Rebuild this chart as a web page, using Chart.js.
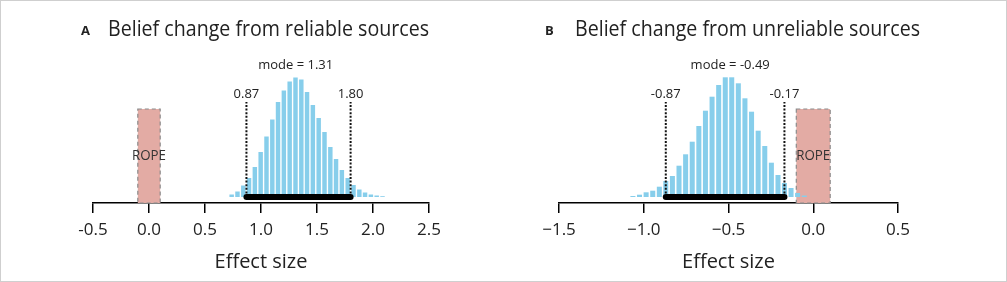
<!DOCTYPE html>
<html>
<head>
<meta charset="utf-8">
<script src="https://cdn.jsdelivr.net/npm/chart.js@4.4.0/dist/chart.umd.min.js"></script>
<style>
    html, body { margin: 0; padding: 0; background: #fff; }
    #wrap { position: relative; width: 1007px; height: 282px; overflow: hidden; }
    #wrap canvas { position: absolute; top: 0; }
    #frame { position: absolute; left: 0; top: 0; width: 1005px; height: 280px; border: 1px solid #cfcfcf; pointer-events: none; }
</style>
</head>
<body>
<div id="wrap">
    <canvas id="chartA" width="503" height="282" style="left:0"></canvas>
    <canvas id="chartB" width="504" height="282" style="left:503px"></canvas>
    <div id="frame"></div>
</div>
<script>
// Panel A - reliable sources (posterior histogram)
const binsA = [0.738, 0.790, 0.842, 0.893, 0.945, 0.997, 1.049, 1.101, 1.152, 1.204, 1.256, 1.308, 1.360, 1.411,
    1.463, 1.515, 1.567, 1.619, 1.670, 1.722, 1.774, 1.826, 1.878, 1.929, 1.981, 2.033, 2.085];
const countsA = [2.5, 5.5, 11.5, 19, 30, 45, 60.5, 77.5, 95, 106.5, 115.5, 119.5, 117.5, 105,
    92, 79, 65, 50, 38, 27, 19, 12, 7.5, 4.5, 2.5, 1.5, 0.8];
const hdiA = [0.87, 1.80];
const modeA = 1.31;
const ticksA = [-0.5, 0, 0.5, 1, 1.5, 2, 2.5];
const tickLabelsA = ['-0.5', '0.0', '0.5', '1.0', '1.5', '2.0', '2.5'];

// Panel B - unreliable sources
const binsB = [-1.064, -1.025, -0.986, -0.947, -0.908, -0.870, -0.831, -0.792, -0.753, -0.714, -0.675, -0.636, -0.597,
    -0.558, -0.519, -0.481, -0.442, -0.403, -0.364, -0.325, -0.286, -0.247, -0.208, -0.170, -0.131, -0.092, -0.053];
const countsB = [1, 2.3, 4.7, 6.3, 10.3, 16, 21, 31.3, 42.7, 55.3, 71, 86.3, 100.3,
    112, 119.7, 119.7, 113.7, 98.7, 85.3, 66.3, 51, 34.3, 22, 14, 9, 4, 1.5];
const hdiB = [-0.87, -0.17];
const modeB = -0.49;
const ticksB = [-1.5, -1, -0.5, 0, 0.5];
const tickLabelsB = ['\u22121.5', '\u22121.0', '\u22120.5', '0.0', '0.5'];

// region of practical equivalence (same for both panels)
const rope = [-0.1, 0.1];

// vertical placement, in y units above the histogram baseline
const ropeTop = 88;
const hdiLineTop = 95;
const hdiLabelY = 98.7;
const modeLabelY = 128.5;
const ropeLabelY = 37.5;

const FONT = '"Open Sans", "Noto Sans", sans-serif';

const annotate = {
    id: 'annotate',
    beforeDatasetsDraw(chart, args, o) {
        const { ctx, scales: { x, y } } = chart;
        const x0 = x.getPixelForValue(rope[0]);
        const x1 = x.getPixelForValue(rope[1]);
        const yt = y.getPixelForValue(ropeTop);
        const yb = y.getPixelForValue(y.min);
        ctx.save();
        ctx.fillStyle = '#e3aba4';
        ctx.fillRect(x0, yt, x1 - x0, yb - yt);
        ctx.setLineDash([4, 3]);
        ctx.strokeStyle = '#8c8c8c';
        ctx.lineWidth = 1.2;
        ctx.strokeRect(x0, yt, x1 - x0, yb - yt);
        ctx.setLineDash([]);
        ctx.fillStyle = '#333';
        ctx.font = '15px ' + FONT;
        ctx.textAlign = 'center';
        ctx.textBaseline = 'alphabetic';
        ctx.fillText('ROPE', (x0 + x1) / 2, y.getPixelForValue(ropeLabelY), 34);
        ctx.restore();
    },
    afterDraw(chart, args, o) {
        const { ctx, scales: { x, y } } = chart;
        ctx.save();
        ctx.fillStyle = '#222';
        ctx.textBaseline = 'alphabetic';
        ctx.textAlign = 'left';
        ctx.font = 'bold 13px ' + FONT;
        ctx.fillText(o.letter, o.letterX, 35);
        ctx.font = '22px ' + FONT;
        ctx.fillText(o.title, o.titleX, 36, o.titleW);

        ctx.textAlign = 'center';
        ctx.font = '13px ' + FONT;
        ctx.fillText('mode = ' + o.mode.toFixed(2), x.getPixelForValue(o.mode), y.getPixelForValue(modeLabelY));
        o.hdi.forEach(v => {
            ctx.fillText(v.toFixed(2), x.getPixelForValue(v), y.getPixelForValue(hdiLabelY));
        });
        ctx.restore();
    }
};

function makeChart(id, bins, counts, hdi, mode, tickVals, tickLabels, range, pad, head) {
    const dotted = v => ({
        type: 'line',
        data: [{ x: v, y: 0 }, { x: v, y: hdiLineTop }],
        borderColor: '#111',
        borderWidth: 2,
        borderDash: [2, 1.6],
        pointRadius: 0,
        order: 1
    });

    return new Chart(document.getElementById(id), {
        type: 'bar',
        data: {
            datasets: [
                {
                    type: 'line',
                    data: hdi.map(v => ({ x: v, y: 0 })),
                    borderColor: '#000',
                    borderWidth: 6,
                    borderCapStyle: 'round',
                    pointRadius: 0,
                    order: 0
                },
                dotted(hdi[0]),
                dotted(hdi[1]),
                {
                    type: 'bar',
                    data: bins.map((b, i) => ({ x: b, y: counts[i] })),
                    backgroundColor: '#87ceeb',
                    barPercentage: 0.78,
                    categoryPercentage: 1,
                    order: 2
                }
            ]
        },
        options: {
            responsive: false,
            animation: false,
            events: [],
            layout: { padding: pad },
            plugins: {
                legend: { display: false },
                tooltip: { enabled: false },
                annotate: Object.assign({ mode: mode, hdi: hdi }, head)
            },
            scales: {
                x: {
                    type: 'linear',
                    min: range[0],
                    max: range[1],
                    offset: false,
                    afterBuildTicks: s => { s.ticks = tickVals.map(v => ({ value: v })); },
                    afterFit: s => { s.height = 79; },
                    ticks: {
                        callback: (v, i) => tickLabels[i],
                        font: { family: FONT, size: 17 },
                        color: '#222',
                        padding: 7,
                        maxRotation: 0,
                        autoSkip: false
                    },
                    grid: {
                        display: true,
                        offset: false,
                        drawOnChartArea: false,
                        drawTicks: true,
                        tickLength: 10,
                        color: '#000',
                        lineWidth: 1.5
                    },
                    border: { display: true, color: '#000', width: 1.5 },
                    title: {
                        display: true,
                        text: 'Effect size',
                        font: { family: FONT, size: 20 },
                        color: '#222',
                        padding: { top: 0, bottom: 8 }
                    }
                },
                y: { display: false, min: -6, max: 140 }
            }
        },
        plugins: [annotate]
    });
}

makeChart('chartA', binsA, countsA, hdiA, modeA, ticksA, tickLabelsA, [-0.5, 2.5],
    { left: 93, right: 74, top: 57, bottom: 0 },
    { letter: 'A', letterX: 81, title: 'Belief change from reliable sources', titleX: 108, titleW: 321 });

makeChart('chartB', binsB, countsB, hdiB, modeB, ticksB, tickLabelsB, [-1.5, 0.5],
    { left: 56, right: 109, top: 57, bottom: 0 },
    { letter: 'B', letterX: 42, title: 'Belief change from unreliable sources', titleX: 72, titleW: 345 });
</script>
</body>
</html>
